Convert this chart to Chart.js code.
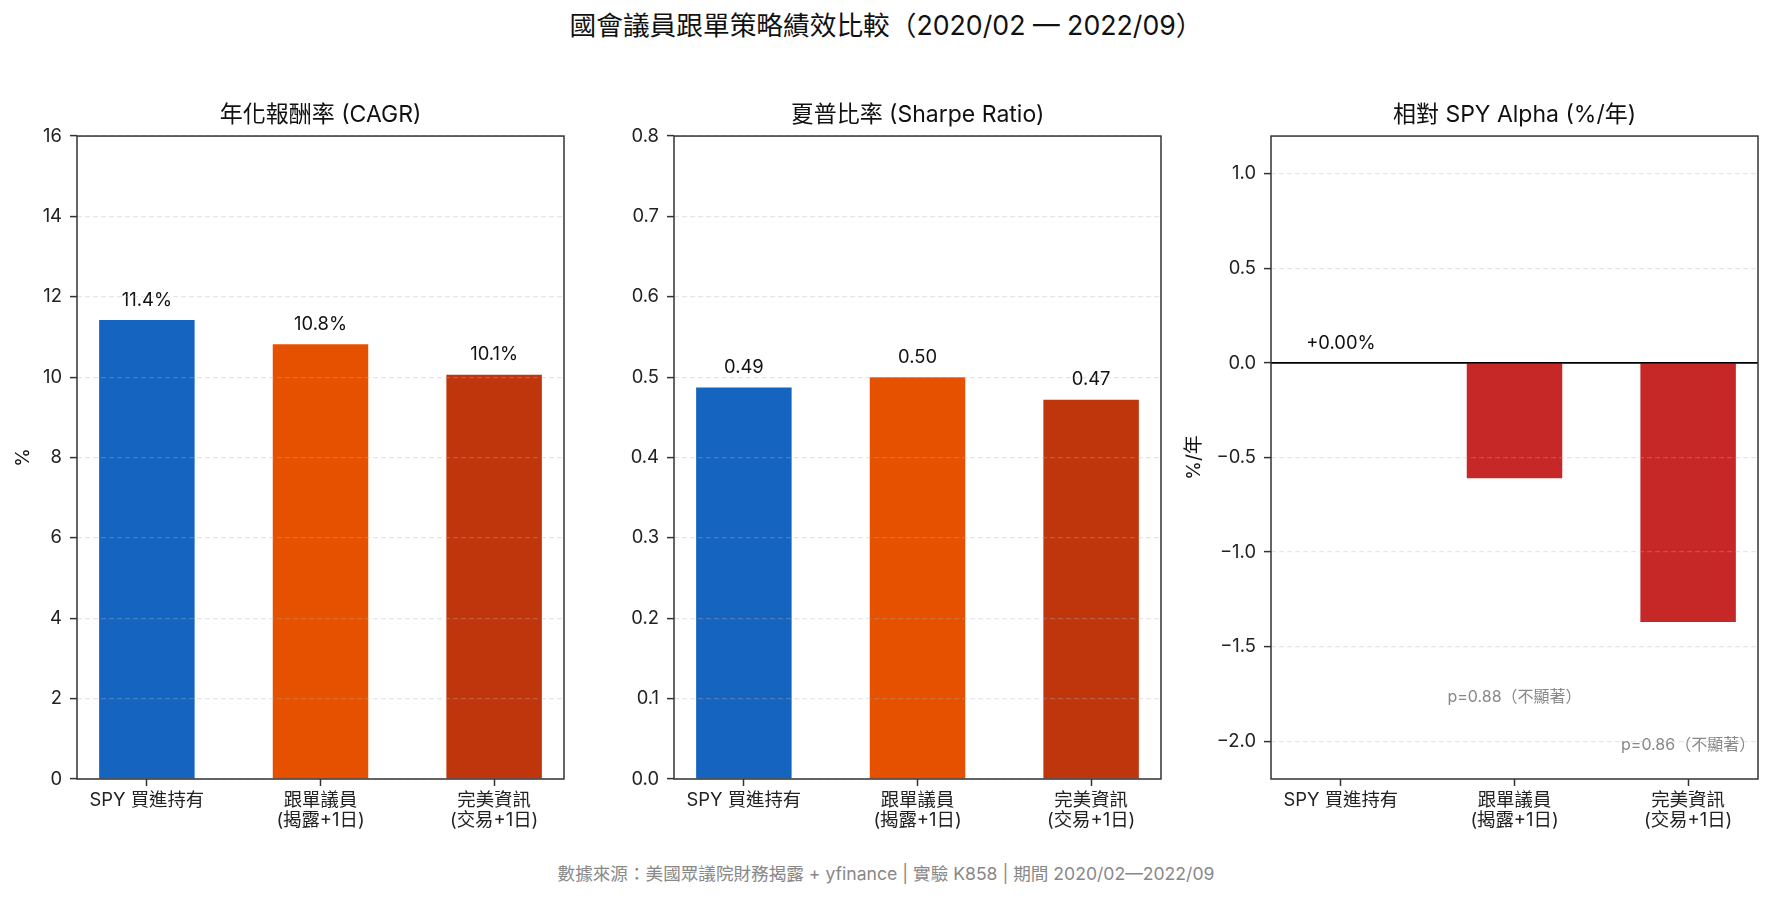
<!DOCTYPE html>
<html lang="zh-Hant">
<head>
    <meta charset="UTF-8"/>
    <title>國會議員跟單策略績效比較</title>
    <style>
        html, body {
            margin: 0;
            padding: 0;
            width: 1772px;
            height: 900px;
            background: #fff;
            overflow: hidden;
            font-family: Inter, 'Noto Sans CJK TC', sans-serif;
        }

        #title {
            position: absolute;
            top: 8px;
            left: 0;
            width: 100%;
            text-align: center;
            font-size: 26.7px;
            line-height: 34px;
            color: #111;
        }

        #footer {
            position: absolute;
            top: 862px;
            left: 0;
            width: 100%;
            text-align: center;
            font-size: 17.6px;
            line-height: 24px;
            color: #888;
        }

        canvas {
            position: absolute;
            top: 90px;
        }
    </style>
    <script src="https://cdn.jsdelivr.net/npm/chart.js@4/dist/chart.umd.min.js"></script>
</head>
<body>
<div id="title">國會議員跟單策略績效比較（2020/02 — 2022/09）</div>
<canvas id="c1" width="576" height="749" style="left:0px"></canvas>
<canvas id="c2" width="576" height="749" style="left:597px"></canvas>
<canvas id="c3" width="599" height="749" style="left:1171px"></canvas>
<div id="footer">數據來源：美國眾議院財務揭露 + yfinance | 實驗 K858 | 期間 2020/02—2022/09</div>

<script>
    // Data
    const categories = [['SPY 買進持有'], ['跟單議員', '(揭露+1日)'], ['完美資訊', '(交易+1日)']];
    const cagr = [11.42, 10.82, 10.06];
    const sharpe = [0.487, 0.500, 0.472];
    const alpha = [0.0, -0.61, -1.37];
    const pValues = [null, 0.88, 0.86];
    const pLabelAt = [null, -1.77, -2.02];

    const barColors = ['#1565C0', '#E65100', '#BF360C'];
    const alphaColor = '#C62828';

    const FONT = "Inter, 'Noto Sans CJK TC', sans-serif";
    const TICK_SIZE = 18.4;

    // frame round the plot + optional zero line
    const framePlugin = {
        id: 'frame',
        afterDraw(chart, args, opts) {
            const {ctx, chartArea: a} = chart;
            ctx.save();
            if (opts.zeroLine) {
                const y = chart.scales.y.getPixelForValue(0);
                ctx.strokeStyle = '#000';
                ctx.lineWidth = 1.8;
                ctx.beginPath();
                ctx.moveTo(a.left, y);
                ctx.lineTo(a.right, y);
                ctx.stroke();
            }
            ctx.strokeStyle = '#333';
            ctx.lineWidth = 1.5;
            ctx.strokeRect(a.left, a.top, a.right - a.left, a.bottom - a.top);
            ctx.restore();
        }
    };

    // text over bars, p-values under them
    const labelPlugin = {
        id: 'barLabels',
        afterDatasetsDraw(chart, args, opts) {
            const {ctx} = chart;
            const meta = chart.getDatasetMeta(0);
            const yScale = chart.scales.y;
            ctx.save();
            ctx.textAlign = 'center';
            ctx.textBaseline = 'middle';
            meta.data.forEach((bar, i) => {
                const txt = opts.texts[i];
                if (txt) {
                    ctx.font = `${TICK_SIZE}px ${FONT}`;
                    ctx.fillStyle = '#111';
                    ctx.fillText(txt, bar.x, Math.min(bar.y, bar.base) - 20);
                }
                if (opts.notes && opts.notes[i]) {
                    ctx.font = `16px ${FONT}`;
                    ctx.fillStyle = '#888';
                    ctx.fillText(opts.notes[i], bar.x, yScale.getPixelForValue(opts.notesAt[i]));
                }
            });
            ctx.restore();
        }
    };

    function makePanel(id, cfg) {
        return new Chart(document.getElementById(id), {
            type: 'bar',
            data: {
                datasets: [{
                    data: cfg.values.map((v, i) => ({x: i, y: v})),
                    backgroundColor: cfg.colors,
                    barPercentage: 0.55,
                    categoryPercentage: 1.0
                }]
            },
            options: {
                responsive: false,
                animation: false,
                layout: {padding: {left: 0, right: 12, top: 0, bottom: 0}},
                scales: {
                    x: {
                        type: 'linear',
                        min: -0.4025,
                        max: 2.4025,
                        offset: false,
                        afterBuildTicks: s => { s.ticks = [0, 1, 2].map(v => ({value: v})); },
                        afterFit: s => { s.height = 60; },
                        grid: {
                            offset: false,
                            drawOnChartArea: false,
                            drawTicks: true,
                            tickLength: 7,
                            tickWidth: 1.5,
                            tickColor: '#333'
                        },
                        border: {display: false},
                        ticks: {
                            color: '#222',
                            padding: 5,
                            maxRotation: 0,
                            autoSkip: false,
                            font: {family: FONT, size: TICK_SIZE, lineHeight: 1.06},
                            callback: v => categories[v]
                        }
                    },
                    y: {
                        min: cfg.min,
                        max: cfg.max,
                        afterFit: s => { s.width = cfg.axisWidth; },
                        grid: {
                            z: 1,
                            color: 'rgba(176,176,176,0.32)',
                            lineWidth: 1.2,
                            drawTicks: true,
                            tickLength: 7,
                            tickWidth: 1.5,
                            tickColor: '#333'
                        },
                        border: {display: false, dash: [5, 3]},
                        title: {
                            display: !!cfg.yTitle,
                            text: cfg.yTitle,
                            color: '#111',
                            padding: {top: cfg.yTitlePad, bottom: 0},
                            font: {family: FONT, size: 19}
                        },
                        ticks: {
                            stepSize: cfg.step,
                            includeBounds: false,
                            color: '#222',
                            padding: 8,
                            font: {family: FONT, size: TICK_SIZE},
                            callback: cfg.fmt
                        }
                    }
                },
                plugins: {
                    legend: {display: false},
                    tooltip: {enabled: false},
                    title: {
                        display: true,
                        fullSize: false,
                        text: cfg.title,
                        color: '#111',
                        padding: {top: 12, bottom: 7.6},
                        font: {family: FONT, size: 23, weight: 'normal', lineHeight: 1.15}
                    },
                    frame: {zeroLine: cfg.zeroLine},
                    barLabels: {texts: cfg.texts, notes: cfg.notes, notesAt: cfg.notesAt}
                }
            },
            plugins: [framePlugin, labelPlugin]
        });
    }

    const minus = v => (v < 0 ? '\u2212' : '') + Math.abs(v).toFixed(1);

    makePanel('c1', {
        title: '年化報酬率 (CAGR)',
        values: cagr,
        colors: barColors,
        min: 0, max: 16, step: 2,
        axisWidth: 77,
        yTitle: '%', yTitlePad: 12,
        fmt: v => String(v),
        texts: cagr.map(v => v.toFixed(1) + '%')
    });

    makePanel('c2', {
        title: '夏普比率 (Sharpe Ratio)',
        values: sharpe,
        colors: barColors,
        min: 0, max: 0.8, step: 0.1,
        axisWidth: 77,
        yTitle: '', yTitlePad: 0,
        fmt: v => v.toFixed(1),
        texts: sharpe.map(v => v.toFixed(2))
    });

    makePanel('c3', {
        title: '相對 SPY Alpha (%/年)',
        values: alpha,
        colors: alpha.map(() => alphaColor),
        min: -2.2, max: 1.2, step: 0.5,
        axisWidth: 100,
        yTitle: '%/年', yTitlePad: 12,
        fmt: minus,
        zeroLine: true,
        texts: alpha.map(v => v >= 0 ? '+' + v.toFixed(2) + '%' : null),
        notes: pValues.map(p => p === null ? null : `p=${p.toFixed(2)}（不顯著）`),
        notesAt: pLabelAt
    });
</script>
</body>
</html>
